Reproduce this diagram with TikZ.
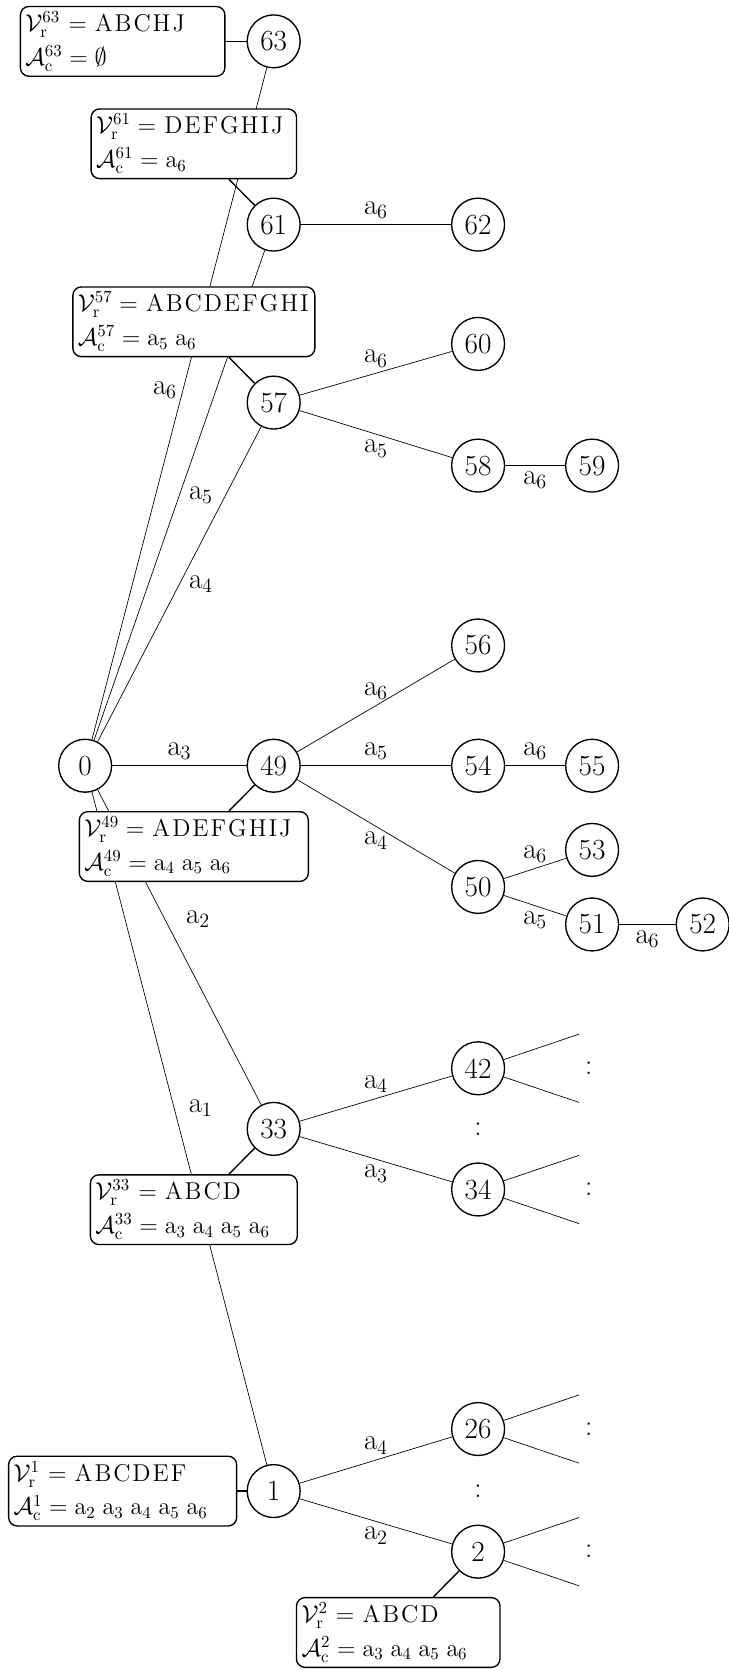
\documentclass[tikz,border=0pt]{standalone}
\usetikzlibrary{positioning}

\makeatletter
\newcommand\spcaps[1]{\@tfor\spc@tok:=#1\do{\spc@tok\kern0.08em}\unkern}
\makeatother
\newcommand\ac[1]{\mathrm{a}_{#1}}
\newcommand\gap{\mkern5mu}

\tikzset{
  vtx/.style={circle,draw,thick,minimum size=1.1cm,inner sep=0pt,font=\LARGE},
  infobox/.style={draw,thick,fill=white,rounded corners=5pt,align=left,
    inner sep=3pt,font=\Large},
  lbl/.style={font=\LARGE},
  link/.style={thick}
}

\begin{document}
\begin{tikzpicture}
\useasboundingbox (-1.77,-18.80) rectangle (13.37,15.92);
\begin{scope}[every node/.style={vtx}]
    \node (n0) at (0,0){0};
    \node (n49) at (3.92,0){49};
    \node (n54) at (8.17,0){54};
    \node (n55) at (10.54,0){55};
    \node (n56) at (8.17,2.50){56};
    \node (n50) at (8.17,-2.52){50};
    \node (n53) at (10.54,-1.75){53};
    \node (n51) at (10.54,-3.30){51};
    \node (n52) at (12.84,-3.30){52};
    \node (n57) at (3.92,7.55){57};
    \node (n60) at (8.17,8.77){60};
    \node (n58) at (8.17,6.24){58};
    \node (n59) at (10.54,6.24){59};
    \node (n61) at (3.92,11.25){61};
    \node (n62) at (8.17,11.25){62};
    \node (n63) at (3.92,15.06){63};
    \node (n33) at (3.92,-7.55){33};
    \node (n42) at (8.17,-6.29){42};
    \node (n34) at (8.17,-8.81){34};
    \node (n1) at (3.92,-15.08){1};
    \node (n26) at (8.17,-13.79){26};
    \node (n2) at (8.17,-16.34){2};
\end{scope}

    % loose ends of the branches that are cut off
    \coordinate (e42a) at (10.27,-5.58);
    \coordinate (e42b) at (10.27,-7.00);
    \coordinate (e34a) at (10.27,-8.10);
    \coordinate (e34b) at (10.27,-9.52);
    \coordinate (e26a) at (10.27,-13.08);
    \coordinate (e26b) at (10.27,-14.50);
    \coordinate (e2a) at (10.27,-15.63);
    \coordinate (e2b) at (10.27,-17.05);

    \path (n0) edge node[pos=0.52, left, lbl]{$\ac6$} (n63);
    \path (n0) edge node[midway, right=2pt, lbl]{$\ac5$} (n61);
    \path (n0) edge node[midway, right=2pt, lbl]{$\ac4$} (n57);
    \path (n0) edge node[above, lbl]{$\ac3$} (n49);
    \path (n0) edge node[pos=0.41, right=9pt, lbl]{$\ac2$} (n33);
    \path (n0) edge node[pos=0.47, right=5pt, lbl]{$\ac1$} (n1);

    \path (n61) edge node[above, lbl]{$\ac6$} (n62);
    \path (n57) edge node[above, lbl]{$\ac6$} (n60);
    \path (n57) edge node[below, lbl]{$\ac5$} (n58);
    \path (n58) edge node[below, lbl]{$\ac6$} (n59);

    \path (n49) edge node[above, lbl]{$\ac6$} (n56);
    \path (n49) edge node[above, lbl]{$\ac5$} (n54);
    \path (n54) edge node[above, lbl]{$\ac6$} (n55);
    \path (n49) edge node[below, lbl]{$\ac4$} (n50);
    \path (n50) edge node[above, lbl]{$\ac6$} (n53);
    \path (n50) edge node[below, lbl]{$\ac5$} (n51);
    \path (n51) edge node[below, lbl]{$\ac6$} (n52);

    \path (n33) edge node[above, lbl]{$\ac4$} (n42);
    \path (n33) edge node[below, lbl]{$\ac3$} (n34);
    \path (n1) edge node[above, lbl]{$\ac4$} (n26);
    \path (n1) edge node[below, lbl]{$\ac2$} (n2);

    \draw (n42) -- (e42a);
    \draw (n42) -- (e42b);
    \draw (n34) -- (e34a);
    \draw (n34) -- (e34b);
    \draw (n26) -- (e26a);
    \draw (n26) -- (e26b);
    \draw (n2) -- (e2a);
    \draw (n2) -- (e2b);

    \node[lbl] (d42) at (10.47,-6.29){:};
    \node[lbl] (d34) at (10.47,-8.81){:};
    \node[lbl] (d33) at (8.17,-7.55){:};
    \node[lbl] (d26) at (10.47,-13.79){:};
    \node[lbl] (d2) at (10.47,-16.34){:};
    \node[lbl] (d1) at (8.17,-15.08){:};

    % sets of each visited vertex
    \node[infobox, text width=4.04cm] (b63) at (0.78,15.06)
        {$\mathcal{V}^{63}_{\mathrm{r}}$~$=$~\spcaps{ABCHJ}\\[2pt] $\mathcal{A}^{63}_{\mathrm{c}} = \emptyset$};
    \node[infobox, text width=4.06cm] (b61) at (2.26,12.93)
        {$\mathcal{V}^{61}_{\mathrm{r}} =$~\spcaps{DEFGHIJ}\\[2pt] $\mathcal{A}^{61}_{\mathrm{c}} = \ac6$};
    \node[infobox, text width=4.82cm] (b57) at (2.26,9.23)
        {$\mathcal{V}^{57}_{\mathrm{r}} =$~\spcaps{ABCDEFGHI}\\[2pt] $\mathcal{A}^{57}_{\mathrm{c}} = \ac5\gap\ac6$};
    \node[infobox, text width=4.55cm] (b49) at (2.26,-1.68)
        {$\mathcal{V}^{49}_{\mathrm{r}} =$~\spcaps{ADEFGHIJ}\\[2pt] $\mathcal{A}^{49}_{\mathrm{c}} = \ac4\gap\ac5\gap\ac6$};
    \node[infobox, text width=4.09cm] (b33) at (2.26,-9.23)
        {$\mathcal{V}^{33}_{\mathrm{r}}$~$=$~\spcaps{ABCD}\\[2pt] $\mathcal{A}^{33}_{\mathrm{c}} = \ac3\gap\ac4\gap\ac5\gap\ac6$};
    \node[infobox, text width=4.53cm] (b1) at (0.78,-15.08)
        {$\mathcal{V}^{1}_{\mathrm{r}}$~$=$~\spcaps{ABCDEF}\\[2pt] $\mathcal{A}^{1}_{\mathrm{c}} = \ac2\gap\ac3\gap\ac4\gap\ac5\gap\ac6$};
    \node[infobox, text width=4.02cm] (b2) at (6.51,-18.02)
        {$\mathcal{V}^{2}_{\mathrm{r}}$~$=$~\spcaps{ABCD}\\[2pt] $\mathcal{A}^{2}_{\mathrm{c}} = \ac3\gap\ac4\gap\ac5\gap\ac6$};

    \draw[link] (b63) -- (n63);
    \draw[link] (b61) -- (n61);
    \draw[link] (b57) -- (n57);
    \draw[link] (b49) -- (n49);
    \draw[link] (b33) -- (n33);
    \draw[link] (b1) -- (n1);
    \draw[link] (b2) -- (n2);

\end{tikzpicture}
\end{document}
